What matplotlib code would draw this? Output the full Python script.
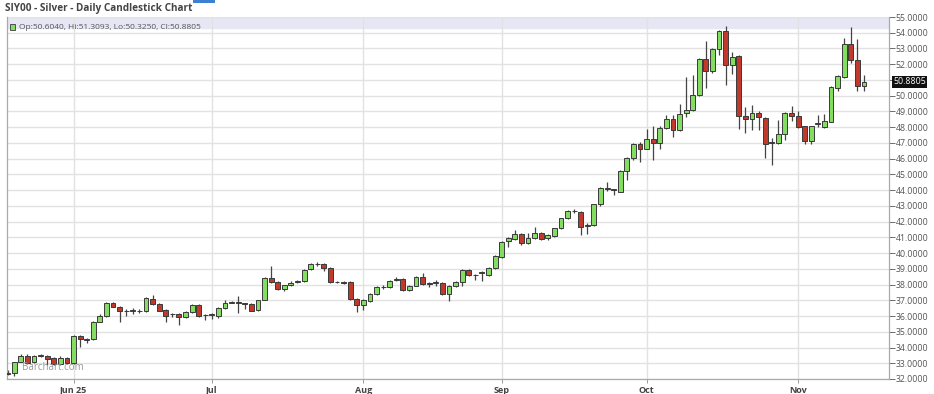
import numpy as np
import pandas as pd
import matplotlib.pyplot as plt
from matplotlib.patches import Rectangle
import matplotlib.transforms as mtransforms

plt.rcParams['font.family'] = ['Open Sans', 'DejaVu Sans']

# Daily OHLC, 19 May 2025 - 17 Nov 2025 (weekdays)
dates = pd.bdate_range('2025-05-19', '2025-11-17')

opens = [32.30, 32.37, 33.11, 33.47, 33.07, 33.49, 33.47, 33.33, 32.94, 33.33,
         33.01, 34.74, 34.50, 34.53, 35.65, 36.00, 36.82, 36.56, 36.30, 36.32,
         36.30, 36.30, 37.07, 36.75, 36.40, 36.10, 36.12, 35.97, 36.28, 36.70,
         36.05, 36.07, 35.98, 36.53, 36.85, 36.90, 36.82, 36.75, 36.40, 37.02,
         38.40, 38.15, 37.70, 37.97, 38.15, 38.20, 39.00, 39.33, 39.29, 39.03,
         38.17, 38.15, 38.19, 37.07, 36.72, 36.98, 37.40, 37.83, 37.83, 38.30,
         38.33, 37.66, 37.93, 38.50, 38.08, 38.12, 38.08, 37.40, 37.91, 38.19,
         38.93, 38.60, 38.75, 38.62, 39.07, 39.77, 40.78, 40.90, 41.20, 40.66,
         40.97, 41.29, 40.94, 41.08, 41.57, 42.20, 42.70, 42.58, 41.72, 41.78,
         43.09, 44.12, 44.05, 43.89, 45.20, 46.05, 46.96, 46.64, 47.28, 47.00,
         47.97, 48.54, 47.80, 48.90, 49.11, 50.07, 52.35, 51.54, 52.98, 54.14,
         51.92, 52.51, 48.71, 48.50, 48.92, 48.58, 47.08, 47.02, 47.59, 48.92,
         48.69, 48.06, 47.10, 48.20, 48.00, 48.33, 50.50, 51.18, 53.30, 52.28,
         50.6040]
highs = [32.55, 33.10, 33.58, 33.60, 33.55, 33.60, 33.55, 33.40, 33.45, 33.40,
         34.80, 34.80, 34.60, 35.70, 36.13, 36.90, 36.90, 36.65, 36.45, 36.50,
         36.45, 37.20, 37.35, 36.80, 36.45, 36.20, 36.20, 36.35, 36.75, 36.75,
         36.15, 36.20, 36.60, 37.00, 36.95, 37.25, 36.85, 36.80, 37.05, 38.45,
         39.20, 38.20, 38.00, 38.20, 38.30, 39.00, 39.40, 39.45, 39.35, 39.10,
         38.25, 38.25, 38.25, 37.15, 37.10, 37.45, 37.90, 37.95, 38.30, 38.45,
         38.40, 38.00, 38.55, 38.75, 38.15, 38.30, 38.15, 37.95, 38.25, 39.00,
         39.00, 38.70, 38.85, 39.10, 39.85, 40.75, 41.00, 41.45, 41.25, 41.30,
         41.67, 41.35, 41.20, 41.60, 42.25, 42.75, 42.80, 42.65, 41.90, 43.15,
         44.20, 44.50, 44.10, 45.25, 46.10, 47.00, 47.05, 47.90, 48.10, 48.10,
         48.80, 48.80, 49.50, 51.20, 51.30, 52.40, 53.50, 53.05, 54.20, 54.45,
         52.75, 52.60, 49.30, 49.43, 49.00, 48.65, 47.30, 48.45, 48.95, 49.35,
         49.05, 48.10, 48.10, 48.80, 48.85, 50.60, 51.30, 53.65, 54.35, 53.60,
         51.3093]
lows = [32.25, 32.16, 33.05, 32.95, 33.00, 33.40, 32.90, 32.90, 32.90, 32.95,
        32.98, 34.05, 34.30, 34.45, 35.60, 35.95, 36.55, 35.65, 36.00, 36.15,
        36.20, 36.25, 36.70, 36.30, 35.60, 35.95, 35.40, 35.90, 36.20, 35.95,
        35.75, 35.80, 35.90, 36.45, 36.80, 36.20, 36.45, 36.30, 36.35, 37.00,
        38.10, 37.65, 37.60, 37.90, 38.10, 38.15, 38.95, 39.20, 38.85, 38.10,
        38.10, 38.05, 37.00, 36.28, 36.40, 36.90, 37.35, 37.75, 37.80, 38.20,
        37.60, 37.60, 37.90, 38.00, 37.87, 37.90, 37.35, 36.95, 37.85, 37.90,
        38.55, 38.30, 38.20, 38.55, 39.00, 39.70, 40.40, 40.85, 40.50, 40.60,
        40.90, 40.80, 40.85, 41.00, 41.50, 42.15, 42.55, 41.14, 41.20, 41.70,
        43.00, 43.95, 43.70, 43.85, 44.63, 45.90, 45.80, 46.60, 45.90, 46.64,
        47.90, 47.40, 47.75, 48.65, 49.00, 50.00, 50.50, 51.45, 52.60, 50.65,
        51.40, 47.90, 47.60, 47.80, 47.80, 46.05, 45.58, 46.95, 47.20, 48.40,
        47.95, 46.95, 46.90, 48.00, 47.95, 48.30, 50.30, 51.10, 52.07, 50.28,
        50.3250]
closes = [32.35, 33.05, 33.43, 33.01, 33.49, 33.47, 33.30, 32.96, 33.36, 33.01,
          34.76, 34.55, 34.55, 35.65, 36.00, 36.85, 36.60, 36.30, 36.35, 36.36,
          36.33, 37.13, 36.77, 36.35, 36.00, 36.12, 35.97, 36.28, 36.70, 36.00,
          36.08, 36.10, 36.53, 36.80, 36.88, 36.85, 36.78, 36.33, 37.02, 38.40,
          38.15, 37.70, 37.97, 38.12, 38.20, 38.95, 39.33, 39.30, 39.05, 38.19,
          38.15, 38.12, 37.07, 36.71, 37.02, 37.40, 37.83, 37.86, 38.25, 38.35,
          37.66, 37.93, 38.50, 38.05, 38.05, 38.15, 37.40, 37.91, 38.19, 38.93,
          38.62, 38.62, 38.80, 39.07, 39.81, 40.72, 40.93, 41.20, 40.66, 40.99,
          41.30, 40.87, 41.14, 41.57, 42.20, 42.69, 42.65, 41.67, 41.80, 43.09,
          44.14, 44.10, 43.98, 45.20, 46.05, 46.96, 46.60, 47.28, 47.00, 47.97,
          48.54, 47.85, 48.86, 49.10, 50.07, 52.35, 51.54, 52.98, 54.14, 51.92,
          52.45, 48.71, 48.50, 48.92, 48.65, 46.90, 47.02, 47.59, 48.92, 48.70,
          48.00, 47.10, 48.06, 48.25, 48.37, 50.55, 51.23, 53.30, 52.24, 50.60,
          50.8805]

month_labels = ['Jun 25', 'Jul', 'Aug', 'Sep', 'Oct', 'Nov']
month_starts = ['2025-06-02', '2025-07-01', '2025-08-01', '2025-09-01', '2025-10-01', '2025-11-03']

o = np.array(opens)
h = np.array(highs)
l = np.array(lows)
c = np.array(closes)
x = np.arange(len(dates))

up = c >= o
colors = np.where(up, '#84dc62', '#c0392b')

fig = plt.figure(figsize=(9.34, 3.94), dpi=100)
ax = fig.add_axes([7 / 934, 1 - 379 / 394, 882 / 934, 362 / 394])

ax.set_xlim(-0.1, 133.8)
ax.set_ylim(32, 55)

# grid
yticks = np.arange(32, 56, 1)
ax.set_yticks(yticks)
month_pos = [dates.get_loc(pd.Timestamp(d)) for d in month_starts]
ax.set_xticks(month_pos)
ax.set_xticklabels(month_labels, fontsize=6.5, fontweight='bold', color='#444444')
ax.grid(True, color='#e2e2e2', linewidth=1.0, zorder=0)

# header band
ax.axhspan(54.3, 55, color='#e6e6f4', zorder=1)
ax.axhline(55, color='#c8c8dc', linewidth=1.2, zorder=1)

# candles
ax.vlines(x, l, h, color='#444444', linewidth=0.9, zorder=2)
bottoms = np.minimum(o, c)
heights = np.maximum(np.abs(c - o), 0.03)
ax.bar(x, heights, bottom=bottoms, width=0.74, color=colors,
       edgecolor='#3a3a3a', linewidth=0.7, zorder=3)

# axes styling: the 51 label sits under the last-price box
ax.yaxis.tick_right()
ax.set_yticklabels(['' if v == 51 else f'{v:.4f}' for v in yticks])
ax.tick_params(axis='y', labelsize=6.3, colors='#555555', length=4, width=0.6, pad=1)
ax.tick_params(axis='x', length=3, width=0.6, colors='#888888', pad=2)
for lbl in ax.get_xticklabels():
    lbl.set_color('#444444')
for lbl in ax.get_yticklabels():
    lbl.set_color('#555555')
ax.spines['top'].set_visible(False)
for s in ['left', 'right', 'bottom']:
    ax.spines[s].set_color('#aaaaaa')
    ax.spines[s].set_linewidth(0.9)

# last price marker
trans = mtransforms.blended_transform_factory(ax.transAxes, ax.transData)
ax.text(1.005, c[-1], f'{c[-1]:.4f}', transform=trans, fontsize=6.3, color='white',
        va='center', ha='left', zorder=5,
        bbox=dict(boxstyle='square,pad=0.15', facecolor='#111111', edgecolor='none'))

# legend line
ax.add_patch(Rectangle((0.0035, 0.963), 0.006, 0.017, transform=ax.transAxes,
                       facecolor='#84dc62', edgecolor='#3a3a3a', linewidth=0.6, zorder=4))
ax.text(0.014, 0.9715, f'Op:{o[-1]:.4f}, Hi:{h[-1]:.4f}, Lo:{l[-1]:.4f}, Cl:{c[-1]:.4f}',
        transform=ax.transAxes, fontsize=6, color='#555555', va='center', ha='left', zorder=4)

# watermark
ax.text(0.017, 0.032, 'Barchart.com', transform=ax.transAxes, fontsize=7,
        color='#999999', va='center', ha='left', zorder=4)

# title
fig.text(5 / 934, 1 - 8 / 394, 'SIY00 - Silver - Daily Candlestick Chart',
         fontsize=7.2, fontweight='bold', color='#444444', va='center', ha='left')
fig.patches.append(Rectangle((193 / 934, 1 - 3 / 394), 22 / 934, 3 / 394,
                             transform=fig.transFigure, facecolor='#3d7fd1',
                             edgecolor='none'))

fig.savefig('out.png', dpi=100)
